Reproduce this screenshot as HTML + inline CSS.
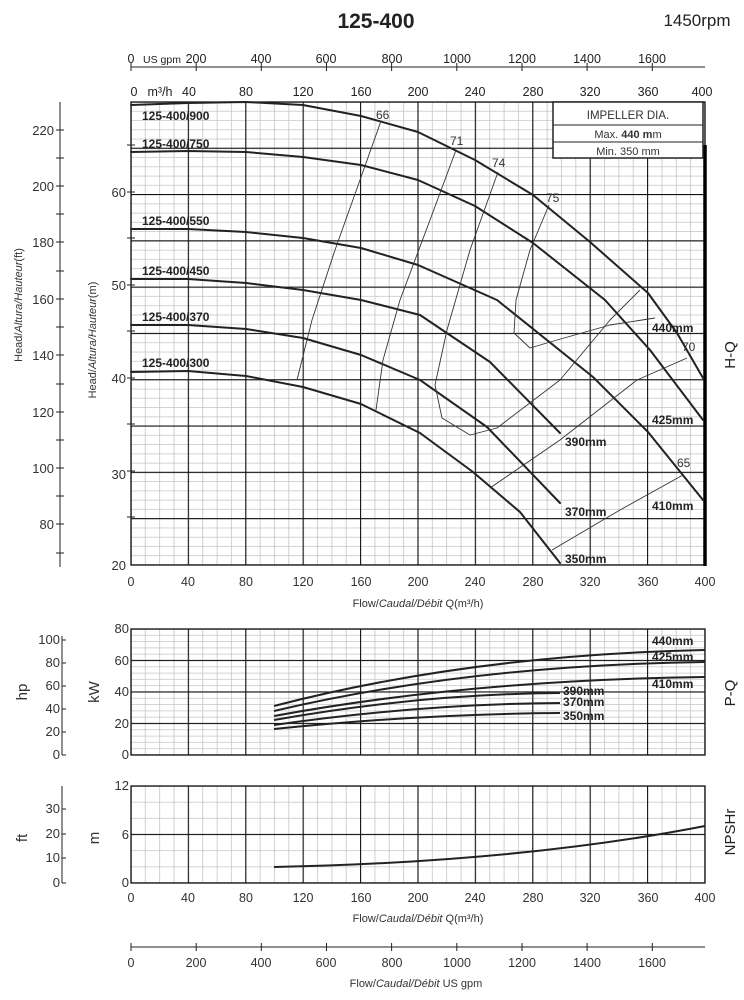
<!DOCTYPE html>
<html><head><meta charset="utf-8"><style>
html,body{margin:0;padding:0;background:#fff;}
svg{display:block;font-family:"Liberation Sans",sans-serif;}
</style></head><body>
<svg width="744" height="1000" viewBox="0 0 744 1000" xmlns="http://www.w3.org/2000/svg">
<defs>
<pattern id="mMin" x="130.4" y="101.4" width="14.35" height="9.26" patternUnits="userSpaceOnUse">
<path d="M0.6,0V9.26M0,0.6H14.35" stroke="#c4c4c4" stroke-width="0.8" fill="none"/></pattern>
<pattern id="mMaj" x="130.4" y="101.4" width="57.4" height="46.3" patternUnits="userSpaceOnUse">
<path d="M0.6,0V46.3M0,0.6H57.4" stroke="#111" stroke-width="1.1" fill="none"/></pattern>
<pattern id="pMin" x="130.4" y="628.4" width="14.35" height="6.3" patternUnits="userSpaceOnUse">
<path d="M0.6,0V6.3M0,0.6H14.35" stroke="#c4c4c4" stroke-width="0.8" fill="none"/></pattern>
<pattern id="pMaj" x="130.4" y="628.4" width="57.4" height="31.5" patternUnits="userSpaceOnUse">
<path d="M0.6,0V31.5M0,0.6H57.4" stroke="#111" stroke-width="1.1" fill="none"/></pattern>
<pattern id="nMin" x="130.4" y="785.4" width="14.35" height="16.17" patternUnits="userSpaceOnUse">
<path d="M0.6,0V16.17M0,0.6H14.35" stroke="#c4c4c4" stroke-width="0.8" fill="none"/></pattern>
<pattern id="nMaj" x="130.4" y="785.4" width="57.4" height="48.5" patternUnits="userSpaceOnUse">
<path d="M0.6,0V48.5M0,0.6H57.4" stroke="#111" stroke-width="1.1" fill="none"/></pattern>
</defs>

<text x="376" y="28" font-size="21" font-weight="bold" text-anchor="middle" fill="#222">125-400</text>
<text x="697" y="26" font-size="17" text-anchor="middle" fill="#222">1450rpm</text>

<!-- top gpm axis -->
<g font-size="12.5" fill="#222" text-anchor="middle">
<line x1="131" y1="67" x2="705" y2="67" stroke="#222"/>
<path d="M131,63V71M196.2,63V71M261.3,63V71M326.5,63V71M391.6,63V71M456.8,63V71M522,63V71M587.1,63V71M652.3,63V71" stroke="#222"/>
<text x="131" y="63">0</text><text x="162" y="63" font-size="10.5">US gpm</text>
<text x="196" y="63">200</text><text x="261" y="63">400</text><text x="326" y="63">600</text><text x="392" y="63">800</text><text x="457" y="63">1000</text><text x="522" y="63">1200</text><text x="587" y="63">1400</text><text x="652" y="63">1600</text>
<text x="134" y="96">0</text><text x="160" y="96">m³/h</text>
<text x="189" y="96">40</text><text x="246" y="96">80</text><text x="303" y="96">120</text><text x="361" y="96">160</text><text x="418" y="96">200</text><text x="475" y="96">240</text><text x="533" y="96">280</text><text x="590" y="96">320</text><text x="648" y="96">360</text><text x="702" y="96">400</text>
</g>

<!-- main grid -->
<rect x="131" y="102" width="574" height="463" fill="url(#mMin)"/>
<rect x="131" y="102" width="574" height="463" fill="url(#mMaj)"/>
<rect x="131" y="102" width="574" height="463" fill="none" stroke="#111" stroke-width="1.3"/>
<line x1="705" y1="145" x2="705" y2="566" stroke="#000" stroke-width="3.5"/>

<!-- left ft axis -->
<g stroke="#222">
<line x1="60" y1="102" x2="60" y2="567"/>
<path d="M56,130H64M56,158H64M56,186H64M56,214H64M56,242H64M56,271H64M56,299H64M56,327H64M56,355H64M56,384H64M56,412H64M56,440H64M56,468H64M56,496H64M56,524H64M56,553H64"/>
<path d="M127,145H135M127,192H135M127,238H135M127,285H135M127,331H135M127,378H135M127,424H135M127,471H135M127,517H135"/>
</g>
<g font-size="13" fill="#333" text-anchor="end">
<text x="54" y="135">220</text><text x="54" y="191">200</text><text x="54" y="247">180</text><text x="54" y="304">160</text><text x="54" y="360">140</text><text x="54" y="417">120</text><text x="54" y="473">100</text><text x="54" y="529">80</text>
<text x="126" y="197">60</text><text x="126" y="290">50</text><text x="126" y="383">40</text><text x="126" y="479">30</text><text x="126" y="570">20</text>
</g>
<text transform="translate(22,305) rotate(-90)" font-size="11" fill="#333" text-anchor="middle">Head/<tspan font-style="italic">Altura/Hauteur</tspan>(ft)</text>
<text transform="translate(96,340) rotate(-90)" font-size="11" fill="#333" text-anchor="middle">Head/<tspan font-style="italic">Altura/Hauteur</tspan>(m)</text>
<text transform="translate(735,355) rotate(-90)" font-size="15" fill="#222" text-anchor="middle">H-Q</text>

<!-- impeller table -->
<rect x="553" y="102" width="150" height="56" fill="#fff" stroke="#222" stroke-width="1.5"/>
<path d="M553,125H703M553,142H703" stroke="#222"/>
<text x="628" y="119" font-size="11.5" text-anchor="middle" fill="#333">IMPELLER DIA.</text>
<text x="628" y="138" font-size="11" text-anchor="middle" fill="#333">Max. <tspan font-weight="bold">440 m</tspan>m</text>
<text x="628" y="155" font-size="11" text-anchor="middle" fill="#333">Min.  350 mm</text>

<!-- head curves -->
<g fill="none" stroke="#222" stroke-width="2" stroke-linejoin="round" stroke-linecap="round">
<polyline points="131,105 188,103 246,102 303,105 361,116 418,132 475,160 533,195 590,242 648,293 677,333 703,378"/>
<polyline points="131,152 188,151 246,152 303,157 361,165 418,180 475,206 533,243 605,300 650,350 703,420"/>
<polyline points="131,229 188,229 246,232 303,238 361,248 418,265 497,300 593,377 648,432 703,500"/>
<polyline points="131,279 188,279 246,283 303,290 361,300 420,315 490,362 560,433"/>
<polyline points="131,325 188,325 246,329 303,338 361,355 420,380 487,427 560,503"/>
<polyline points="131,372 188,371 246,376 303,387 361,404 420,433 473,472 520,512 560,563"/>
</g>
<!-- efficiency -->
<g fill="none" stroke="#333" stroke-width="0.9" stroke-linejoin="round">
<polyline points="381,121 360,180 335,250 312,320 297,380"/>
<polyline points="456,150 430,220 400,300 383,360 376,410"/>
<polyline points="498,172 470,250 447,330 435,385 442,418 470,435 497,428 560,380 610,320 640,290"/>
<polyline points="549,205 530,250 516,300 514,333 530,348 557,340 610,325 655,318"/>
<polyline points="490,488 560,440 637,380 687,358"/>
<polyline points="552,550 620,510 683,475"/>
</g>
<g font-size="12" fill="#333">
<text x="376" y="119">66</text><text x="450" y="145">71</text><text x="492" y="167">74</text><text x="546" y="202">75</text><text x="682" y="351">70</text><text x="677" y="467">65</text>
</g>
<g font-size="12" font-weight="bold" fill="#222">
<text x="142" y="120">125-400/900</text><text x="142" y="148">125-400/750</text><text x="142" y="225">125-400/550</text><text x="142" y="275">125-400/450</text><text x="142" y="321">125-400/370</text><text x="142" y="367">125-400/300</text>
<text x="652" y="332">440mm</text><text x="652" y="424">425mm</text><text x="652" y="510">410mm</text><text x="565" y="446">390mm</text><text x="565" y="516">370mm</text><text x="565" y="563">350mm</text>
</g>

<!-- main x labels -->
<g font-size="12.5" fill="#333" text-anchor="middle">
<text x="131" y="586">0</text><text x="188" y="586">40</text><text x="246" y="586">80</text><text x="303" y="586">120</text><text x="361" y="586">160</text><text x="418" y="586">200</text><text x="475" y="586">240</text><text x="533" y="586">280</text><text x="590" y="586">320</text><text x="648" y="586">360</text><text x="705" y="586">400</text>
</g>
<text x="418" y="607" font-size="11" fill="#333" text-anchor="middle">Flow/<tspan font-style="italic">Caudal/Débit</tspan> Q(m³/h)</text>

<!-- power chart -->
<rect x="131" y="629" width="574" height="126" fill="url(#pMin)"/>
<rect x="131" y="629" width="574" height="126" fill="url(#pMaj)"/>
<rect x="131" y="629" width="574" height="126" fill="none" stroke="#111" stroke-width="1.3"/>
<g stroke="#222"><line x1="62" y1="636" x2="62" y2="755"/>
<path d="M62,640H66M62,663H66M62,686H66M62,709H66M62,732H66M62,755H66"/></g>
<g font-size="13" fill="#333" text-anchor="end">
<text x="60" y="644">100</text><text x="60" y="667">80</text><text x="60" y="690">60</text><text x="60" y="713">40</text><text x="60" y="736">20</text><text x="60" y="759">0</text>
<text x="129" y="633">80</text><text x="129" y="665">60</text><text x="129" y="696">40</text><text x="129" y="728">20</text><text x="129" y="759">0</text>
</g>
<text transform="translate(27,692) rotate(-90)" font-size="15" fill="#333" text-anchor="middle">hp</text>
<text transform="translate(99,692) rotate(-90)" font-size="15" fill="#333" text-anchor="middle">kW</text>
<text transform="translate(735,693) rotate(-90)" font-size="15" fill="#222" text-anchor="middle">P-Q</text>
<g fill="none" stroke="#222" stroke-width="2">
<path d="M274,706 Q470,655 705,650"/>
<path d="M274,711 Q470,665 705,662"/>
<path d="M274,716 Q470,680 705,677"/>
<path d="M274,720 Q420,694 560,693"/>
<path d="M274,725 Q420,704 560,703"/>
<path d="M274,729 Q420,714 560,713"/>
</g>
<g font-size="12" font-weight="bold" fill="#222">
<text x="652" y="645">440mm</text><text x="652" y="661">425mm</text><text x="652" y="688">410mm</text>
<text x="563" y="695">390mm</text><text x="563" y="706">370mm</text><text x="563" y="720">350mm</text>
</g>

<!-- NPSH chart -->
<rect x="131" y="786" width="574" height="97" fill="url(#nMin)"/>
<rect x="131" y="786" width="574" height="97" fill="url(#nMaj)"/>
<rect x="131" y="786" width="574" height="97" fill="none" stroke="#111" stroke-width="1.3"/>
<g stroke="#222"><line x1="62" y1="786" x2="62" y2="883"/>
<path d="M62,809H66M62,834H66M62,858H66M62,883H66"/></g>
<g font-size="13" fill="#333" text-anchor="end">
<text x="60" y="813">30</text><text x="60" y="838">20</text><text x="60" y="862">10</text><text x="60" y="887">0</text>
<text x="129" y="790">12</text><text x="129" y="839">6</text><text x="129" y="887">0</text>
</g>
<text transform="translate(27,838) rotate(-90)" font-size="15" fill="#333" text-anchor="middle">ft</text>
<text transform="translate(99,838) rotate(-90)" font-size="15" fill="#333" text-anchor="middle">m</text>
<text transform="translate(735,832) rotate(-90)" font-size="15" fill="#222" text-anchor="middle">NPSHr</text>
<path d="M274,867 Q520,862 705,826" fill="none" stroke="#222" stroke-width="2"/>
<g font-size="12.5" fill="#333" text-anchor="middle">
<text x="131" y="902">0</text><text x="188" y="902">40</text><text x="246" y="902">80</text><text x="303" y="902">120</text><text x="361" y="902">160</text><text x="418" y="902">200</text><text x="475" y="902">240</text><text x="533" y="902">280</text><text x="590" y="902">320</text><text x="648" y="902">360</text><text x="705" y="902">400</text>
</g>
<text x="418" y="922" font-size="11" fill="#333" text-anchor="middle">Flow/<tspan font-style="italic">Caudal/Débit</tspan> Q(m³/h)</text>

<!-- bottom gpm axis -->
<line x1="131" y1="947" x2="705" y2="947" stroke="#222"/>
<path d="M131,943V951M196.2,943V951M261.3,943V951M326.5,943V951M391.6,943V951M456.8,943V951M522,943V951M587.1,943V951M652.3,943V951" stroke="#222"/>
<g font-size="12.5" fill="#333" text-anchor="middle">
<text x="131" y="967">0</text><text x="196" y="967">200</text><text x="261" y="967">400</text><text x="326" y="967">600</text><text x="392" y="967">800</text><text x="457" y="967">1000</text><text x="522" y="967">1200</text><text x="587" y="967">1400</text><text x="652" y="967">1600</text>
</g>
<text x="416" y="987" font-size="11" fill="#333" text-anchor="middle">Flow/<tspan font-style="italic">Caudal/Débit</tspan>   US gpm</text>
</svg>
</body></html>
